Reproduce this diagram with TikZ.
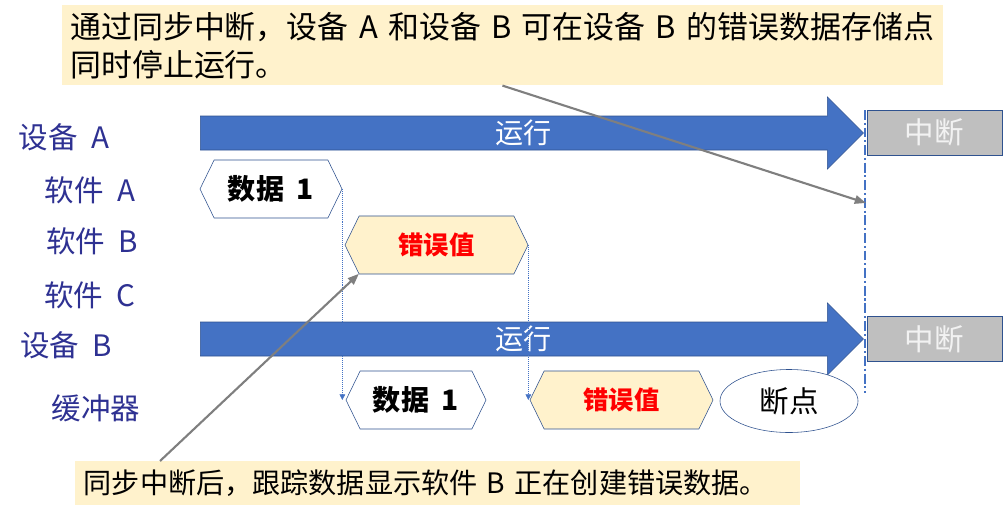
\documentclass[tikz,border=0pt]{standalone}
\usepackage{fontspec}
\setmainfont{Noto Sans CJK SC}
\usetikzlibrary{arrows.meta,positioning,shapes.arrows,shapes.symbols,shapes.geometric}
\definecolor{runblue}{HTML}{4472C4}
\definecolor{runedge}{HTML}{2F528F}
\definecolor{notebg}{HTML}{FFF2CC}
\definecolor{labblue}{HTML}{2E3192}
\definecolor{haltgray}{HTML}{BFBFBF}
\definecolor{pointgray}{HTML}{7F7F7F}
\definecolor{errred}{HTML}{FF0000}
\newcommand{\gap}{\hspace{0.45em}}

\begin{document}
\begin{tikzpicture}[x=0.025cm, y=-0.025cm,
      lab/.style={text=labblue, font=\fontsize{21}{25}\selectfont},
      run/.style={single arrow, draw=runedge, fill=runblue, text=white,
                  minimum height=16.575cm, minimum width=1.8cm,
                  single arrow head extend=0.45cm, inner sep=2pt, anchor=tail,
                  font=\fontsize{20}{24}\selectfont},
      halt/.style={draw=runedge, fill=haltgray, text=white!95!black,
                   minimum width=3.375cm, minimum height=1.125cm,
                   font=\fontsize{21}{25}\selectfont},
      datum/.style={signal, signal to=east and west, signal pointer angle=128,
                    draw=runedge, fill=white, minimum height=1.45cm,
                    minimum width=3.55cm, font=\fontsize{20}{24}\selectfont\bfseries},
      bad/.style={datum, fill=notebg, text=errred, minimum width=4.575cm,
                  font=\fontsize{18}{22}\selectfont\bfseries},
      note/.style={fill=notebg, anchor=north west, align=left, inner xsep=0.2cm},
      trace/.style={draw=runblue, densely dotted, line width=0.4pt,
                    -{Triangle[length=4pt,width=4pt]}},
      pointer/.style={draw=pointgray, line width=1.5pt,
                      -{Triangle[length=8pt,width=6pt]}}
  ]
    \useasboundingbox (0,0) rectangle (1003,519);

    % row labels
    \node[lab] (labA)   at (64,137) {设备\gap A};
    \node[lab] (labSA)  at (90,190) {软件\gap A};
    \node[lab] (labSB)  at (92,241) {软件\gap B};
    \node[lab] (labSC)  at (90,295) {软件\gap C};
    \node[lab] (labB)   at (66,345) {设备\gap B};
    \node[lab] (labBuf) at (96,408) {缓冲器};

    % devices running
    \node[run] (runA) at (200,133) {运行};
    \node[run] (runB) at (200,339) {运行};
    \node[halt] (haltA) at (934.5,132.5) {中断};
    \node[halt] (haltB) at (934.5,339) {中断};
    \coordinate (syncTop) at (865,110);
    \coordinate (syncBot) at (865,393);
    \draw[runblue, line width=1.5pt, dash pattern=on 7pt off 2pt on 1.5pt off 2pt]
      (syncTop) -- (syncBot);

    % software data and buffer
    \node[datum] (swA)   at (271,189) {数据\gap 1};
    \node[bad]   (swB)   at (436.5,245) {错误值};
    \node[datum, minimum width=3.5cm] (buf1) at (416,400) {数据\gap 1};
    \node[bad]   (bufErr) at (621.5,400) {错误值};
    \node[ellipse, draw=runedge, fill=white, minimum width=3.45cm,
          minimum height=1.575cm, font=\fontsize{21}{25}\selectfont] (brk) at (789,401) {断点};
    \draw[trace] (swA.east) -- (swA.east |- buf1.west);
    \draw[trace] (swB.east) -- (swB.east |- bufErr.west);

    % notes
    \node[note, minimum width=22cm, minimum height=2cm, text width=21.6cm,
          font=\fontsize{22}{27}\selectfont] (noteTop) at (62,5)
      {通过同步中断，设备 A 和设备 B 可在设备 B 的错误数据存储点\\同时停止运行。};
    \node[note, minimum width=18.125cm, minimum height=1.1cm, text width=17.7cm,
          font=\fontsize{20}{24}\selectfont] (noteBot) at (75,461)
      {同步中断后，跟踪数据显示软件 B 正在创建错误数据。};
    \coordinate (hitSync) at (866,203);
    \draw[pointer] (noteTop.south) -- (hitSync);
    \draw[pointer] ([xshift=2.125cm]noteBot.north west)
      -- ([shift={(-1.94cm,-0.72cm)}]swB.center);
\end{tikzpicture}
\end{document}
